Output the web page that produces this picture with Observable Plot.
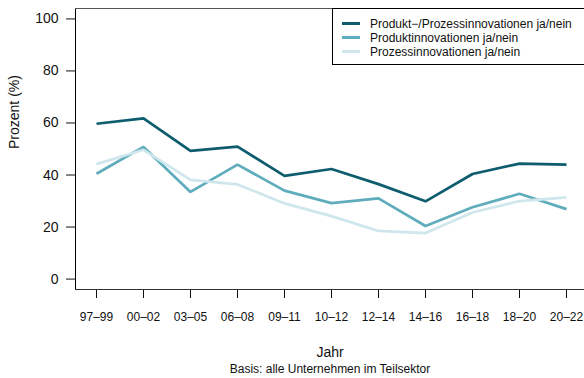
<!DOCTYPE html>
<html>
<head>
<meta charset="utf-8">
<script src="https://cdn.jsdelivr.net/npm/d3@7"></script>
<script src="https://cdn.jsdelivr.net/npm/@observablehq/plot@0.6"></script>
<style>
  body { margin: 0; background: #fff; }
  #wrap { position: relative; width: 584px; height: 378px; font-family: "Liberation Sans", Arial, sans-serif; color: #111; }
  #wrap svg { font-family: "Liberation Sans", Arial, sans-serif; font-size: 12px; }
  #legend { position: absolute; left: 332px; top: 8px; width: 252px; height: 57px; border: 1px solid #000; border-right: none; background: #fff; box-sizing: border-box; }
  .row { position: absolute; left: 0; height: 14px; }
  .sw { position: absolute; left: 9px; width: 18px; height: 3px; }
  .lab { position: absolute; left: 37px; font-size: 12px; color: #111; white-space: nowrap; line-height: 14px; }
</style>
</head>
<body>
<div id="wrap"></div>
<script>
// Survey periods (x axis)
const periods = ["97–99", "00–02", "03–05", "06–08", "09–11", "10–12", "12–14", "14–16", "16–18", "18–20", "20–22"];

// Share of firms (%) per indicator
const produktProzess = [59.7, 61.8, 49.3, 50.9, 39.7, 42.3, 36.5, 29.9, 40.4, 44.4, 44.0];
const produkt        = [40.5, 50.8, 33.5, 44.0, 34.0, 29.2, 31.0, 20.4, 27.6, 32.8, 26.9];
const prozess        = [44.2, 49.7, 38.1, 36.4, 29.1, 24.2, 18.5, 17.7, 25.6, 30.0, 31.4];

const seriesNames = [
  "Produkt\u2212/Prozessinnovationen ja/nein",
  "Produktinnovationen ja/nein",
  "Prozessinnovationen ja/nein"
];
const seriesColors = ["#0e5d6f", "#5fadbc", "#cfe7ec"];
const yTicks = [0, 20, 40, 60, 80, 100];

const seriesValues = [produktProzess, produkt, prozess];
const rows = seriesValues.flatMap((vals, s) =>
  vals.map((v, i) => ({ series: seriesNames[s], period: periods[i], value: v }))
);

const chart = Plot.plot({
  width: 584,
  height: 378,
  marginLeft: 75,
  marginRight: 0,
  marginTop: 8,
  marginBottom: 89,
  x: { type: "point", domain: periods, range: [94.5, 568.3], padding: 0, tickSize: 9, tickPadding: 14, label: null },
  y: { domain: [-4, 104] },
  color: { domain: seriesNames, range: seriesColors },
  marks: [
    Plot.frame({ anchor: "left", stroke: "#000" }),
    Plot.axisY({ ticks: yTicks, tickSize: 9, tickPadding: 8, fontSize: 14, label: null }),
    Plot.frame({ anchor: "top", stroke: "#555" }),
    Plot.frame({ anchor: "bottom", stroke: "#333" }),
    Plot.line(rows, {
      x: "period", y: "value", z: "series",
      stroke: "series", strokeWidth: 2.7, strokeLinejoin: "miter", strokeLinecap: "butt"
    }),
    // axis titles and footnote
    Plot.text(["Jahr"], { frameAnchor: "bottom", dy: 63, fontSize: 14, lineAnchor: "middle", text: d => d }),
    Plot.text(["Basis: alle Unternehmen im Teilsektor"], { frameAnchor: "bottom", dy: 80, fontSize: 12, lineAnchor: "middle", text: d => d }),
    Plot.text(["Prozent (%)"], { frameAnchor: "left", dx: -61, rotate: -90, fontSize: 14, lineAnchor: "middle", text: d => d })
  ]
});

const wrap = document.getElementById("wrap");
wrap.appendChild(chart);

// legend box in the top-right corner of the plot area
const legend = document.createElement("div");
legend.id = "legend";
const rowTops = [7.5, 21.5, 35.5];
seriesNames.forEach((name, i) => {
  const r = document.createElement("div");
  r.className = "row";
  r.style.top = rowTops[i] + "px";
  const sw = document.createElement("div");
  sw.className = "sw";
  sw.style.top = "5.5px";
  sw.style.background = seriesColors[i];
  const lab = document.createElement("div");
  lab.className = "lab";
  lab.textContent = name;
  r.appendChild(sw);
  r.appendChild(lab);
  legend.appendChild(r);
});
wrap.appendChild(legend);
</script>
</body>
</html>
